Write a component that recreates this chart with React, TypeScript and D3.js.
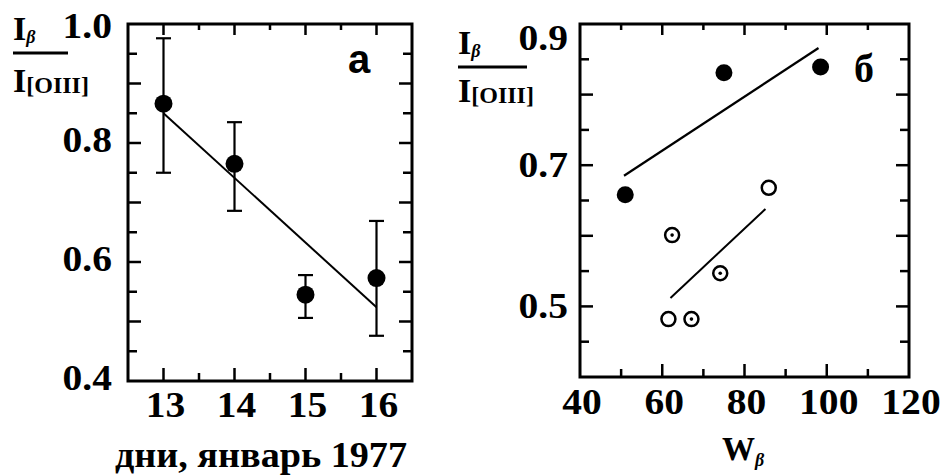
import React from 'react';
import * as d3 from 'd3';

// panel а: days of January 1977
const days = [13, 14, 15, 16];
const ratioA = [0.866, 0.765, 0.545, 0.573];
const errHi = [0.976, 0.835, 0.578, 0.669];
const errLo = [0.75, 0.686, 0.506, 0.476];
const fitA = [[13, 0.85], [16, 0.524]];
const yTicksA = ['0.4', '0.6', '0.8', '1.0'];
const xTicksA = ['13', '14', '15', '16'];

// panel б: W_beta
const filledW = [51, 75, 98.5];
const filledR = [0.658, 0.831, 0.839];
const openW = [85.9, 61.5];
const openR = [0.668, 0.482];
const dotW = [62.4, 74.1, 67.1];
const dotR = [0.601, 0.547, 0.482];
const fitFilled = [[50.7, 0.685], [98, 0.866]];
const fitOpen = [[62, 0.512], [85.1, 0.638]];
const yTicksB = ['0.5', '0.7', '0.9'];
const xTicksB = ['40', '60', '80', '100', '120'];

const serif = '"Liberation Serif", "Times New Roman", serif';

// the scanned figure's lettering is a bit wider than the font
const Txt = ({ x, y, anchor = 'start', size = 35, sx = 1.13, children }) => (
    <text transform={`translate(${x},${y}) scale(${sx},1)`} textAnchor={anchor}
        fontFamily={serif} fontWeight="bold" fontSize={size}>{children}</text>
);

const App = () => {
    const xa = d3.scaleLinear().domain([12.5, 16.5]).range([128, 412]);
    const ya = d3.scaleLinear().domain([0.4, 1.0]).range([381, 24]);
    const xb = d3.scaleLinear().domain([40, 120]).range([580, 909]);
    const yb = d3.scaleLinear().domain([0.4, 0.9]).range([377, 24]);

    const line = d3.line();

    // inward ticks on all four sides
    const frameTicks = (x, y, xt, yt, xMajor, yMajor) => {
        const [x0, x1] = x.range();
        const [y0, y1] = y.range();
        const out = [];
        xt.forEach((v, i) => {
            const L = xMajor(v) ? 13 : 8;
            out.push(<line key={'xb' + i} x1={x(v)} x2={x(v)} y1={y0} y2={y0 - L} />);
            out.push(<line key={'xt' + i} x1={x(v)} x2={x(v)} y1={y1} y2={y1 + L - 2} />);
        });
        yt.forEach((v, i) => {
            const L = yMajor(v) ? 13 : 9;
            out.push(<line key={'yl' + i} x1={x0} x2={x0 + L} y1={y(v)} y2={y(v)} />);
            out.push(<line key={'yr' + i} x1={x1} x2={x1 - L} y1={y(v)} y2={y(v)} />);
        });
        return out;
    };

    const ticksA = frameTicks(
        xa, ya,
        d3.range(13, 16.01, 0.5), d3.range(0.45, 0.99, 0.05),
        v => Math.abs(v - Math.round(v)) < 0.01,
        v => Math.abs(v * 10 - Math.round(v * 10)) < 0.01
    );
    const ticksB = frameTicks(
        xb, yb,
        d3.range(50, 111, 10), d3.range(0.45, 0.89, 0.05),
        v => v % 20 === 0,
        v => Math.abs(v * 10 - Math.round(v * 10)) < 0.01
    );

    const yLabel = (x, y, w, gap) => (
        <g transform={`translate(${x},${y})`} fontFamily={serif} fontWeight="bold">
            <text x={0} y={0} fontSize={34}>I<tspan fontSize={18} dy={3} fontStyle="italic">β</tspan></text>
            <line x1={0} x2={w} y1={13} y2={13} stroke="#000" strokeWidth={3} />
            <text x={0} y={13 + gap} fontSize={34}>I<tspan fontSize={24} dy={1}>[OIII]</tspan></text>
        </g>
    );

    return (
        <svg width={940} height={475} style={{ position: 'absolute', left: 0, top: 0, display: 'block' }}>
            <rect width={940} height={475} fill="#fff" />
            {/* panel а */}
            <g stroke="#000" strokeWidth={2.5}>{ticksA}</g>
            <rect x={128} y={24} width={284} height={357} fill="none" stroke="#000" strokeWidth={3} />
            {yTicksA.map(t => (
                <Txt key={t} x={112} y={t === '1.0' ? 38 : ya(+t) + 9} anchor="end">{t}</Txt>
            ))}
            {xTicksA.map(t => (
                <Txt key={t} x={xa(+t) + 2} y={417} anchor="middle">{t}</Txt>
            ))}
            <text x={115} y={467} textLength={292} lengthAdjust="spacingAndGlyphs"
                fontFamily={serif} fontWeight="bold" fontSize={35}>дни, январь 1977</text>
            {yLabel(13, 40, 55, 39)}
            <text x={348} y={73} fontFamily='"Liberation Sans", Arial, sans-serif' fontWeight="bold" fontSize={40}>а</text>
            <path d={line(fitA.map(([d, r]) => [xa(d), ya(r)]))} stroke="#000" strokeWidth={2} fill="none" />
            {days.map((d, i) => (
                <g key={d} stroke="#000" strokeWidth={2.2}>
                    <line x1={xa(d)} x2={xa(d)} y1={ya(errHi[i])} y2={ya(errLo[i])} />
                    <line x1={xa(d) - 7.5} x2={xa(d) + 7.5} y1={ya(errHi[i])} y2={ya(errHi[i])} />
                    <line x1={xa(d) - 7.5} x2={xa(d) + 7.5} y1={ya(errLo[i])} y2={ya(errLo[i])} />
                    <circle cx={xa(d)} cy={ya(ratioA[i])} r={9} fill="#000" stroke="none" />
                </g>
            ))}

            {/* panel б */}
            <g stroke="#000" strokeWidth={2.5}>{ticksB}</g>
            <rect x={580} y={24} width={329} height={353} fill="none" stroke="#000" strokeWidth={3} />
            {yTicksB.map(t => (
                <Txt key={t} x={568} y={t === '0.9' ? 50 : yb(+t) + 12} anchor="end">{t}</Txt>
            ))}
            {xTicksB.map(t => (
                <Txt key={t} x={xb(+t) + 2} y={414} anchor="middle">{t}</Txt>
            ))}
            <text x={722} y={460} fontFamily={serif} fontWeight="bold" fontSize={33}>W<tspan fontSize={18} dy={6} fontStyle="italic">β</tspan></text>
            {yLabel(458, 54, 69, 35)}
            <text x={854} y={82} fontFamily={serif} fontWeight="bold" fontSize={40}>б</text>
            <path d={line(fitFilled.map(([w, r]) => [xb(w), yb(r)]))} stroke="#000" strokeWidth={2.2} fill="none" />
            <path d={line(fitOpen.map(([w, r]) => [xb(w), yb(r)]))} stroke="#000" strokeWidth={2} fill="none" />
            {filledW.map((w, i) => (
                <circle key={'f' + i} cx={xb(w)} cy={yb(filledR[i])} r={8.5} fill="#000" />
            ))}
            {openW.map((w, i) => (
                <circle key={'o' + i} cx={xb(w)} cy={yb(openR[i])} r={7} fill="#fff" stroke="#000" strokeWidth={2.5} />
            ))}
            {dotW.map((w, i) => (
                <g key={'d' + i}>
                    <circle cx={xb(w)} cy={yb(dotR[i])} r={7} fill="#fff" stroke="#000" strokeWidth={2.5} />
                    <circle cx={xb(w)} cy={yb(dotR[i])} r={1.8} fill="#000" />
                </g>
            ))}
        </svg>
    );
};

export default App;
